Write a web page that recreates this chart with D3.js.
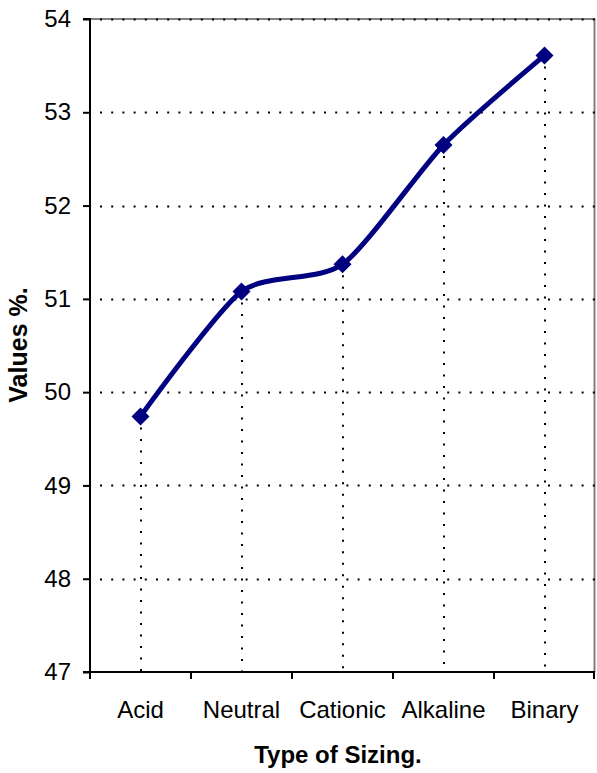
<!DOCTYPE html>
<html>
<head>
<meta charset="utf-8">
<script src="https://cdn.jsdelivr.net/npm/d3@7"></script>
<style>
  html, body { margin: 0; padding: 0; background: #fff; }
  svg { display: block; font-family: "Liberation Sans", Arial, sans-serif; }
</style>
</head>
<body>
<svg id="chart" width="597" height="773"></svg>
<script>
// Sizing types and measured values (%)
const categories = ["Acid", "Neutral", "Cationic", "Alkaline", "Binary"];
const values = [49.74, 51.08, 51.37, 52.65, 53.61];
const yTicks = [47, 48, 49, 50, 51, 52, 53, 54];

const svg = d3.select("#chart");
const margin = { left: 90, right: 2, top: 19, bottom: 101 };
const W = 597, H = 773;
const x0 = margin.left, x1 = W - margin.right;
const y0 = H - margin.bottom, y1 = margin.top;

const x = d3.scaleBand().domain(categories).range([x0, x1]);
const y = d3.scaleLinear().domain([47, 54]).range([y0, y1]);
const cx = c => x(c) + x.bandwidth() / 2;

// plot-area frame (grey on top and right)
svg.append("path")
  .attr("d", `M${x0},${y1}H${x1 - 0.5}V${y0}`)
  .attr("fill", "none").attr("stroke", "#808080").attr("stroke-width", 2);

// dotted horizontal gridlines
svg.append("g").selectAll("line")
  .data(yTicks.filter(t => t > 47))
  .join("line")
  .attr("x1", x0 + 10).attr("x2", x1)
  .attr("y1", d => Math.round(y(d)) + 0.5).attr("y2", d => Math.round(y(d)) + 0.5)
  .attr("stroke", "#000").attr("stroke-width", 2)
  .attr("stroke-dasharray", "2,9.2");

// dotted drop lines from each point to the category axis
svg.append("g").selectAll("line")
  .data(categories.map((c, i) => [c, values[i]]))
  .join("line")
  .attr("x1", d => Math.round(cx(d[0])))
  .attr("x2", d => Math.round(cx(d[0])))
  .attr("y1", d => y(d[1]) + 11).attr("y2", y0)
  .attr("stroke", "#000").attr("stroke-width", 2)
  .attr("stroke-dasharray", "2,9.5");

// value axis
const yAxis = d3.axisLeft(y).tickValues(yTicks).tickSize(7).tickPadding(12).tickFormat(d3.format("d"));
const gy = svg.append("g").attr("transform", `translate(${x0},0)`).call(yAxis);
gy.attr("font-size", null).attr("font-family", null);
gy.select(".domain").attr("stroke", "#000").attr("stroke-width", 2).attr("d", `M-7,${y1}H0V${y0}H-7`);
gy.selectAll(".tick line").attr("stroke", "#000").attr("stroke-width", 2);
gy.selectAll("text").attr("font-size", 24).attr("fill", "#000");

// category axis: tick marks on band boundaries
const gx = svg.append("g").attr("transform", `translate(0,${y0})`);
gx.append("line").attr("x1", x0).attr("x2", x1).attr("stroke", "#000").attr("stroke-width", 2);
const bounds = categories.map(c => x(c)).concat([x1 - 1]);
gx.selectAll(".tk").data(bounds).join("line")
  .attr("x1", d => d).attr("x2", d => d).attr("y1", 0).attr("y2", 7)
  .attr("stroke", "#000").attr("stroke-width", 2);
gx.selectAll(".lbl").data(categories).join("text")
  .attr("x", d => cx(d)).attr("y", 46)
  .attr("text-anchor", "middle").attr("font-size", 24).attr("fill", "#000")
  .text(d => d);

// series line (smoothed)
const line = d3.line()
  .x((d, i) => cx(categories[i]))
  .y(d => y(d))
  .curve(d3.curveCardinal.tension(0.3));
svg.append("path").datum(values)
  .attr("d", line).attr("fill", "none")
  .attr("stroke", "#000080").attr("stroke-width", 5).attr("stroke-linejoin", "round");

// diamond markers
svg.append("g").selectAll("path")
  .data(values)
  .join("path")
  .attr("transform", (d, i) => `translate(${cx(categories[i])},${y(d)})`)
  .attr("d", "M0,-9L9,0L0,9L-9,0Z")
  .attr("fill", "#000080");

// axis titles
svg.append("text").attr("x", 338).attr("y", 763)
  .attr("text-anchor", "middle").attr("font-size", 24).attr("font-weight", "bold")
  .text("Type of Sizing.");
svg.append("text")
  .attr("transform", `translate(27,345) rotate(-90)`)
  .attr("text-anchor", "middle").attr("font-size", 25).attr("font-weight", "bold")
  .text("Values %.");
</script>
</body>
</html>
